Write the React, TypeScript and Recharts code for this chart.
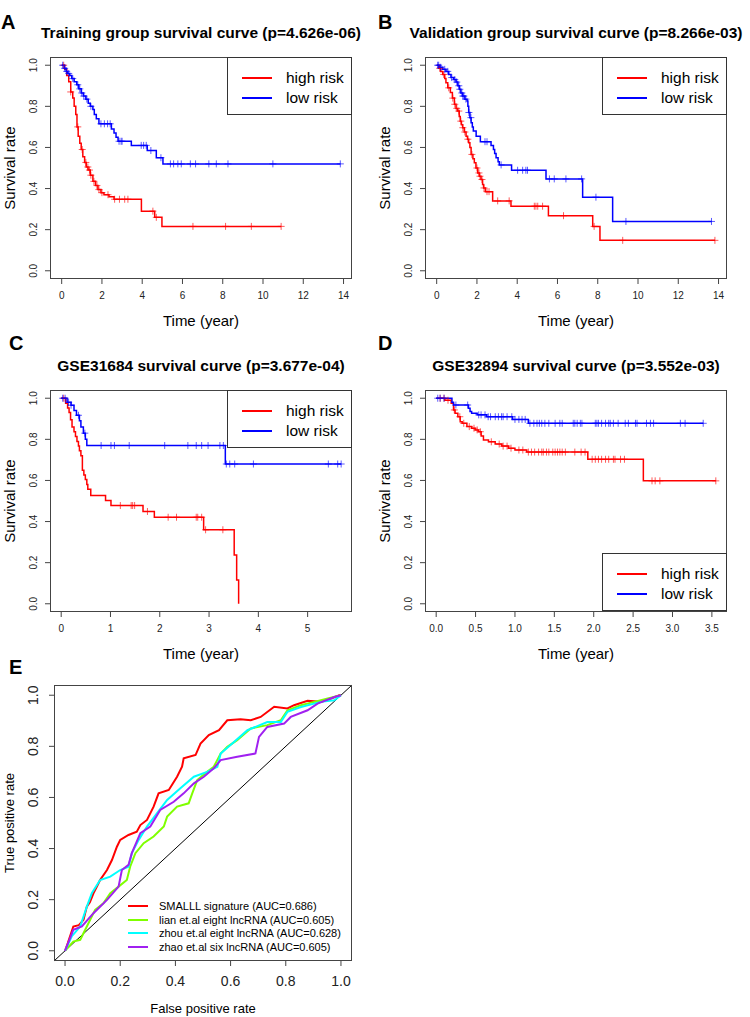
import React from "react";
import { ComposedChart, Line, Scatter, XAxis, YAxis, ReferenceLine } from "recharts";

const FONT = '"Liberation Sans", Arial, Helvetica, sans-serif';
const RED = "#FF0000";
const BLUE = "#0000FF";

// ---- A: training group ----
const aHighTime = [0, 0.15, 0.25, 0.35, 0.45, 0.55, 0.62, 0.7, 0.76, 0.82, 0.9, 0.97, 1.05, 1.14, 1.22, 1.31, 1.42, 1.55, 1.68, 1.8, 1.95, 2.1, 2.35, 2.6, 3.96, 4.62, 4.98, 10.9];
const aHighSurv = [1, 0.98, 0.95, 0.92, 0.87, 0.84, 0.8, 0.76, 0.7, 0.655, 0.62, 0.59, 0.555, 0.527, 0.505, 0.49, 0.465, 0.435, 0.415, 0.395, 0.38, 0.37, 0.36, 0.348, 0.29, 0.26, 0.216, 0.216];
const aHighCensor = [0.1, 0.45, 0.8, 1.02, 1.2, 1.3, 1.38, 1.45, 1.6, 1.75, 1.85, 2.0, 2.3, 2.63, 2.87, 3.13, 3.29, 4.53, 4.7, 6.52, 8.14, 9.42, 10.9];
const aLowTime = [0, 0.12, 0.22, 0.3, 0.4, 0.5, 0.62, 0.75, 0.85, 0.97, 1.08, 1.2, 1.32, 1.42, 1.55, 1.62, 1.72, 1.85, 2.47, 2.6, 2.7, 2.8, 3.46, 4.25, 4.7, 5.03, 13.84];
const aLowSurv = [1, 0.985, 0.97, 0.96, 0.95, 0.935, 0.92, 0.905, 0.885, 0.865, 0.85, 0.835, 0.815, 0.8, 0.785, 0.76, 0.74, 0.715, 0.69, 0.67, 0.65, 0.63, 0.61, 0.585, 0.55, 0.52, 0.52];
const aLowCensor = [0.05, 0.15, 0.25, 0.35, 0.55, 0.8, 0.9, 1.0, 1.1, 1.25, 1.45, 1.95, 2.12, 2.28, 2.41, 2.85, 2.95, 3.0, 3.95, 4.07, 4.2, 4.43, 4.93, 5.4, 5.56, 5.77, 5.94, 6.39, 6.65, 7.31, 7.68, 8.26, 10.49, 13.84];

// ---- B: validation group ----
const bHighTime = [0, 0.1, 0.2, 0.3, 0.4, 0.46, 0.55, 0.68, 0.78, 0.88, 0.96, 1.04, 1.12, 1.17, 1.23, 1.29, 1.37, 1.46, 1.53, 1.59, 1.65, 1.71, 1.8, 1.87, 1.95, 2.04, 2.12, 2.2, 2.28, 2.33, 2.42, 2.78, 3.69, 5.55, 7.75, 8.11, 13.82];
const bHighSurv = [1, 0.985, 0.97, 0.955, 0.935, 0.915, 0.89, 0.867, 0.84, 0.81, 0.79, 0.777, 0.75, 0.728, 0.71, 0.696, 0.675, 0.655, 0.64, 0.623, 0.6, 0.566, 0.545, 0.525, 0.5, 0.476, 0.46, 0.444, 0.42, 0.403, 0.385, 0.34, 0.314, 0.268, 0.216, 0.148, 0.148];
const bHighCensor = [0.15, 0.35, 0.6, 0.8, 0.9, 1.0, 1.1, 1.2, 1.3, 1.4, 1.55, 1.75, 2.0, 2.1, 2.15, 2.25, 2.35, 2.5, 2.6, 3.03, 3.6, 4.85, 4.93, 5.02, 5.26, 6.3, 7.82, 9.24, 13.82];
const bLowTime = [0, 0.15, 0.3, 0.46, 0.6, 0.71, 0.85, 0.96, 1.05, 1.13, 1.2, 1.29, 1.4, 1.51, 1.55, 1.59, 1.65, 1.71, 1.77, 1.82, 1.96, 2.17, 2.7, 2.82, 2.88, 2.95, 3.05, 3.11, 3.72, 5.43, 7.25, 8.74, 13.65];
const bLowSurv = [1, 0.99, 0.98, 0.97, 0.955, 0.94, 0.93, 0.918, 0.9, 0.883, 0.865, 0.85, 0.835, 0.826, 0.8, 0.77, 0.745, 0.72, 0.7, 0.68, 0.655, 0.628, 0.61, 0.59, 0.57, 0.55, 0.53, 0.515, 0.489, 0.447, 0.358, 0.24, 0.24];
const bLowCensor = [0.05, 0.1, 0.2, 0.4, 0.55, 0.75, 0.9, 1.0, 1.1, 1.15, 1.25, 1.3, 1.35, 1.45, 1.6, 1.7, 2.4, 2.5, 3.2, 4.02, 4.27, 4.43, 4.51, 5.6, 5.84, 6.42, 7.2, 7.91, 9.4, 13.65];

// ---- C: GSE31684 ----
const cHighTime = [0, 0.09, 0.13, 0.16, 0.19, 0.22, 0.26, 0.29, 0.32, 0.35, 0.37, 0.4, 0.43, 0.46, 0.49, 0.52, 0.54, 0.6, 0.9, 1.01, 1.66, 1.89, 2.89, 3.51, 3.56, 3.6];
const cHighSurv = [1, 0.976, 0.953, 0.93, 0.895, 0.86, 0.837, 0.814, 0.79, 0.767, 0.744, 0.72, 0.65, 0.627, 0.604, 0.58, 0.557, 0.527, 0.502, 0.478, 0.449, 0.421, 0.36, 0.237, 0.116, 0];
const cHighCensor = [0.05, 1.2, 1.42, 1.45, 1.49, 1.75, 2.17, 2.34, 2.74, 2.77, 2.85, 2.93, 3.28];
const cLowTime = [0, 0.12, 0.2, 0.26, 0.31, 0.37, 0.4, 0.45, 0.49, 0.52, 3.33, 5.68];
const cLowSurv = [1, 0.98, 0.966, 0.94, 0.917, 0.89, 0.86, 0.83, 0.8, 0.77, 0.68, 0.68];
const cLowCensor = [0.03, 0.08, 0.15, 0.2, 0.35, 0.48, 0.81, 1.01, 1.08, 1.38, 2.1, 2.57, 2.74, 2.85, 2.98, 3.22, 3.29, 3.35, 3.42, 3.52, 3.9, 5.42, 5.61, 5.68];

// ---- D: GSE32894 ----
const dHighTime = [0, 0.11, 0.19, 0.22, 0.24, 0.275, 0.305, 0.33, 0.39, 0.45, 0.495, 0.537, 0.571, 0.6, 0.664, 0.749, 0.833, 0.918, 1.0, 1.15, 1.925, 2.63, 3.55];
const dHighSurv = [1, 0.99, 0.976, 0.943, 0.927, 0.91, 0.886, 0.878, 0.862, 0.854, 0.846, 0.837, 0.816, 0.797, 0.788, 0.777, 0.767, 0.757, 0.748, 0.738, 0.703, 0.598, 0.598];
const dHighCensor = [0.05, 0.1, 0.15, 0.23, 0.3, 0.35, 0.42, 0.48, 0.52, 0.56, 0.7, 0.8, 0.85, 0.9, 0.95, 1.05, 1.1, 1.17, 1.21, 1.25, 1.3, 1.34, 1.36, 1.4, 1.43, 1.48, 1.51, 1.54, 1.57, 1.6, 1.64, 1.76, 1.84, 1.89, 1.98, 2.02, 2.06, 2.1, 2.15, 2.19, 2.25, 2.27, 2.34, 2.39, 2.74, 2.78, 2.84, 3.55];
const dLowTime = [0, 0.2, 0.22, 0.41, 0.43, 0.45, 0.52, 0.64, 0.97, 1.17, 3.39];
const dLowSurv = [1, 0.98, 0.967, 0.951, 0.935, 0.927, 0.919, 0.91, 0.897, 0.878, 0.878];
const dLowCensor = [0.02, 0.05, 0.1, 0.25, 0.4, 0.54, 0.57, 0.62, 0.66, 0.69, 0.75, 0.79, 0.83, 0.85, 0.9, 0.96, 1.0, 1.05, 1.09, 1.13, 1.19, 1.24, 1.28, 1.31, 1.34, 1.38, 1.43, 1.51, 1.57, 1.6, 1.74, 1.76, 1.79, 1.83, 1.85, 2.02, 2.04, 2.06, 2.1, 2.15, 2.19, 2.21, 2.25, 2.31, 2.4, 2.44, 2.53, 2.55, 2.67, 2.72, 2.76, 3.1, 3.16, 3.39];

// ---- E: ROC ----
const rocRedFpr = [0, 0.01, 0.03, 0.05, 0.067, 0.079, 0.09, 0.103, 0.115, 0.127, 0.152, 0.17, 0.188, 0.2, 0.23, 0.26, 0.273, 0.297, 0.321, 0.339, 0.376, 0.406, 0.424, 0.43, 0.473, 0.491, 0.521, 0.558, 0.588, 0.636, 0.673, 0.709, 0.758, 0.806, 0.83, 0.879, 0.927, 0.964, 0.994, 1];
const rocRedTpr = [0, 0.03, 0.095, 0.1, 0.121, 0.173, 0.19, 0.225, 0.25, 0.277, 0.316, 0.355, 0.407, 0.434, 0.453, 0.466, 0.492, 0.512, 0.564, 0.616, 0.629, 0.681, 0.72, 0.753, 0.766, 0.811, 0.844, 0.863, 0.902, 0.906, 0.902, 0.915, 0.955, 0.948, 0.961, 0.978, 0.974, 0.987, 1, 1];
const rocGreenFpr = [0, 0.03, 0.055, 0.079, 0.109, 0.139, 0.164, 0.194, 0.224, 0.236, 0.255, 0.285, 0.321, 0.358, 0.37, 0.406, 0.448, 0.461, 0.479, 0.515, 0.539, 0.564, 0.588, 0.624, 0.673, 0.733, 0.782, 0.806, 0.855, 0.903, 0.952, 1];
const rocGreenTpr = [0, 0.036, 0.043, 0.095, 0.16, 0.186, 0.225, 0.251, 0.277, 0.329, 0.382, 0.421, 0.447, 0.486, 0.525, 0.564, 0.577, 0.616, 0.668, 0.7, 0.72, 0.772, 0.798, 0.824, 0.87, 0.883, 0.902, 0.941, 0.961, 0.974, 0.987, 1];
const rocCyanFpr = [0, 0.024, 0.055, 0.079, 0.097, 0.127, 0.164, 0.2, 0.23, 0.242, 0.267, 0.297, 0.333, 0.37, 0.418, 0.467, 0.515, 0.552, 0.564, 0.606, 0.661, 0.733, 0.782, 0.806, 0.855, 0.927, 0.976, 1];
const rocCyanTpr = [0, 0.056, 0.095, 0.173, 0.225, 0.277, 0.29, 0.316, 0.329, 0.382, 0.434, 0.486, 0.538, 0.59, 0.636, 0.681, 0.7, 0.72, 0.772, 0.811, 0.863, 0.895, 0.895, 0.935, 0.954, 0.974, 0.98, 1];
const rocPurpleFpr = [0, 0.03, 0.061, 0.103, 0.152, 0.194, 0.206, 0.23, 0.242, 0.273, 0.309, 0.345, 0.394, 0.43, 0.467, 0.503, 0.539, 0.564, 0.624, 0.69, 0.703, 0.733, 0.794, 0.818, 0.879, 0.915, 0.976, 1];
const rocPurpleTpr = [0, 0.082, 0.095, 0.147, 0.199, 0.251, 0.316, 0.336, 0.382, 0.46, 0.486, 0.551, 0.583, 0.616, 0.655, 0.681, 0.714, 0.746, 0.759, 0.772, 0.837, 0.876, 0.889, 0.915, 0.941, 0.967, 0.993, 1];

const rocLabels = [
  "SMALLL signature (AUC=0.686)",
  "lian et.al eight lncRNA (AUC=0.605)",
  "zhou et.al eight lncRNA (AUC=0.628)",
  "zhao et.al six lncRNA (AUC=0.605)",
];
const rocColors = ["#FF0000", "#7FFF00", "#00FFFF", "#A020F0"];

const yTicks = [0, 0.2, 0.4, 0.6, 0.8, 1];

type Pt = { t: number; s: number };
const steps = (time: number[], surv: number[]): Pt[] => time.map((t, i) => ({ t, s: surv[i] }));
const censored = (time: number[], surv: number[], cens: number[]): Pt[] =>
  cens.map((c) => {
    let s = surv[0];
    for (let i = 0; i < time.length; i++) if (time[i] <= c) s = surv[i];
    return { t: c, s };
  });

const plus = (color: string) => (p: any) => (
  <path d={`M${p.cx - 3.5},${p.cy}h7M${p.cx},${p.cy - 3.5}v7`} stroke={color} strokeWidth={1} strokeOpacity={0.65} fill="none" />
);

const RotTick = (size: number) => (p: any) => (
  <text x={p.x} y={p.y} transform={`rotate(-90 ${p.x} ${p.y})`} textAnchor="middle" fontSize={size} fill="#222" fontFamily={FONT}>
    {Number(p.payload.value).toFixed(1)}
  </text>
);

function Txt({ x, y, size, bold, rotate, left, children }: any) {
  return (
    <div
      style={{
        position: "absolute", left: x, top: y, fontSize: size, fontWeight: bold ? 700 : 400,
        transform: `translate(${left ? "0" : "-50%"},-50%)${rotate ? " rotate(-90deg)" : ""}`,
        whiteSpace: "nowrap", lineHeight: 1, fontFamily: FONT, color: "#000",
      }}
    >
      {children}
    </div>
  );
}

interface KMProps {
  left: number; top: number; title: string;
  domain: [number, number]; ticks: number[]; fmt: (v: number) => string;
  high: [number[], number[], number[]]; low: [number[], number[], number[]];
  legendBottom?: boolean;
}

function KMPanel({ left, top, title, domain, ticks, fmt, high, low, legendBottom }: KMProps) {
  const legTop = legendBottom ? 220 : 57;
  return (
    <div style={{ position: "absolute", left, top, width: 375, height: 340 }}>
      <ComposedChart width={375} height={340} margin={{ top: 57, right: 23, left: 0, bottom: 21 }}>
        <XAxis dataKey="t" type="number" domain={domain} ticks={ticks} tickFormatter={fmt} allowDataOverflow
          axisLine={false} tickSize={5} tickMargin={8} height={40} interval={0}
          tickLine={{ stroke: "#444" }} tick={{ fontSize: 10, fill: "#222", fontFamily: FONT }} />
        <YAxis type="number" domain={[-0.04, 1.04]} ticks={yTicks} allowDataOverflow width={50}
          axisLine={false} tickSize={5} tickMargin={8} interval={0}
          tickLine={{ stroke: "#444" }} tick={RotTick(10)} />
        <Line data={steps(high[0], high[1])} dataKey="s" type="stepAfter" stroke={RED} strokeWidth={1.5} dot={false} isAnimationActive={false} />
        <Line data={steps(low[0], low[1])} dataKey="s" type="stepAfter" stroke={BLUE} strokeWidth={1.5} dot={false} isAnimationActive={false} />
        <Scatter data={censored(high[0], high[1], high[2])} dataKey="s" shape={plus(RED)} isAnimationActive={false} />
        <Scatter data={censored(low[0], low[1], low[2])} dataKey="s" shape={plus(BLUE)} isAnimationActive={false} />
      </ComposedChart>
      <div style={{ position: "absolute", left: 50, top: 57, width: 302, height: 222, border: "1px solid #444", boxSizing: "border-box", pointerEvents: "none" }} />
      <div style={{ position: "absolute", left: 227, top: legTop, width: 125, height: 58, border: "1px solid #333", boxSizing: "border-box", background: "#fff" }}>
        {[["high risk", RED], ["low risk", BLUE]].map(([label, c], i) => (
          <React.Fragment key={label}>
            <div style={{ position: "absolute", left: 14, top: 19 + i * 20, width: 30, height: 1.5, background: c }} />
            <div style={{ position: "absolute", left: 58, top: 20 + i * 20, transform: "translateY(-50%)", fontSize: 15.5, lineHeight: 1, fontFamily: FONT, whiteSpace: "nowrap" }}>{label}</div>
          </React.Fragment>
        ))}
      </div>
      <Txt x={201} y={33} size={15.5} bold>{title}</Txt>
      <Txt x={201} y={320} size={15}>Time (year)</Txt>
      <Txt x={9} y={168} size={15} rotate>Survival rate</Txt>
    </div>
  );
}

const intFmt = (v: number) => String(v);
const oneDec = (v: number) => v.toFixed(1);

export default function App() {
  const roc = [
    [rocRedFpr, rocRedTpr],
    [rocGreenFpr, rocGreenTpr],
    [rocCyanFpr, rocCyanTpr],
    [rocPurpleFpr, rocPurpleTpr],
  ];
  return (
    <div style={{ position: "absolute", left: 0, top: 0, width: 750, height: 1017, background: "#fff", fontFamily: FONT }}>
      <KMPanel left={0} top={0} title="Training group survival curve (p=4.626e-06)"
        domain={[-0.58, 14.42]} ticks={[0, 2, 4, 6, 8, 10, 12, 14]} fmt={intFmt}
        high={[aHighTime, aHighSurv, aHighCensor]} low={[aLowTime, aLowSurv, aLowCensor]} />
      <KMPanel left={375} top={0} title="Validation group survival curve (p=8.266e-03)"
        domain={[-0.58, 14.42]} ticks={[0, 2, 4, 6, 8, 10, 12, 14]} fmt={intFmt}
        high={[bHighTime, bHighSurv, bHighCensor]} low={[bLowTime, bLowSurv, bLowCensor]} />
      <KMPanel left={0} top={333} title="GSE31684 survival curve (p=3.677e-04)"
        domain={[-0.227, 5.9]} ticks={[0, 1, 2, 3, 4, 5]} fmt={intFmt}
        high={[cHighTime, cHighSurv, cHighCensor]} low={[cLowTime, cLowSurv, cLowCensor]} />
      <KMPanel left={375} top={333} title="GSE32894 survival curve (p=3.552e-03)"
        domain={[-0.142, 3.692]} ticks={[0, 0.5, 1, 1.5, 2, 2.5, 3, 3.5]} fmt={oneDec}
        high={[dHighTime, dHighSurv, dHighCensor]} low={[dLowTime, dLowSurv, dLowCensor]} legendBottom />

      <div style={{ position: "absolute", left: 0, top: 640, width: 375, height: 377 }}>
        <ComposedChart width={375} height={377} margin={{ top: 45, right: 23, left: 0, bottom: 16 }}>
          <XAxis dataKey="fpr" type="number" domain={[-0.04, 1.04]} ticks={yTicks} tickFormatter={oneDec} allowDataOverflow
            axisLine={false} tickSize={5} tickMargin={10} height={40} interval={0}
            tickLine={{ stroke: "#444" }} tick={{ fontSize: 14, fill: "#222", fontFamily: FONT }} />
          <YAxis type="number" domain={[-0.04, 1.04]} ticks={yTicks} allowDataOverflow width={54}
            axisLine={false} tickSize={5} tickMargin={11} interval={0}
            tickLine={{ stroke: "#444" }} tick={RotTick(14)} />
          <ReferenceLine segment={[{ x: -0.04, y: -0.04 }, { x: 1.04, y: 1.04 }]} stroke="#000" strokeWidth={1} />
          {roc.map(([f, t], i) => (
            <Line key={i} data={f.map((v, j) => ({ fpr: v, tpr: t[j] }))} dataKey="tpr" type="linear"
              stroke={rocColors[i]} strokeWidth={2} dot={false} isAnimationActive={false} />
          ))}
        </ComposedChart>
        <div style={{ position: "absolute", left: 54, top: 45, width: 298, height: 276, border: "1px solid #444", boxSizing: "border-box", pointerEvents: "none" }} />
      </div>
      {rocLabels.map((label, i) => (
        <React.Fragment key={label}>
          <div style={{ position: "absolute", left: 128, top: 905 + i * 13.7, width: 20, height: 2, background: rocColors[i] }} />
          <div style={{ position: "absolute", left: 159, top: 906 + i * 13.7, transform: "translateY(-50%)", fontSize: 11, lineHeight: 1, fontFamily: FONT, whiteSpace: "nowrap" }}>{label}</div>
        </React.Fragment>
      ))}
      <Txt x={203} y={1008} size={13}>False positive rate</Txt>
      <Txt x={9} y={823} size={13} rotate>True positive rate</Txt>

      <Txt x={1} y={22} size={20} bold left>A</Txt>
      <Txt x={378} y={22} size={20} bold left>B</Txt>
      <Txt x={9} y={343} size={20} bold left>C</Txt>
      <Txt x={378} y={343} size={20} bold left>D</Txt>
      <Txt x={9} y={667} size={20} bold left>E</Txt>
    </div>
  );
}
